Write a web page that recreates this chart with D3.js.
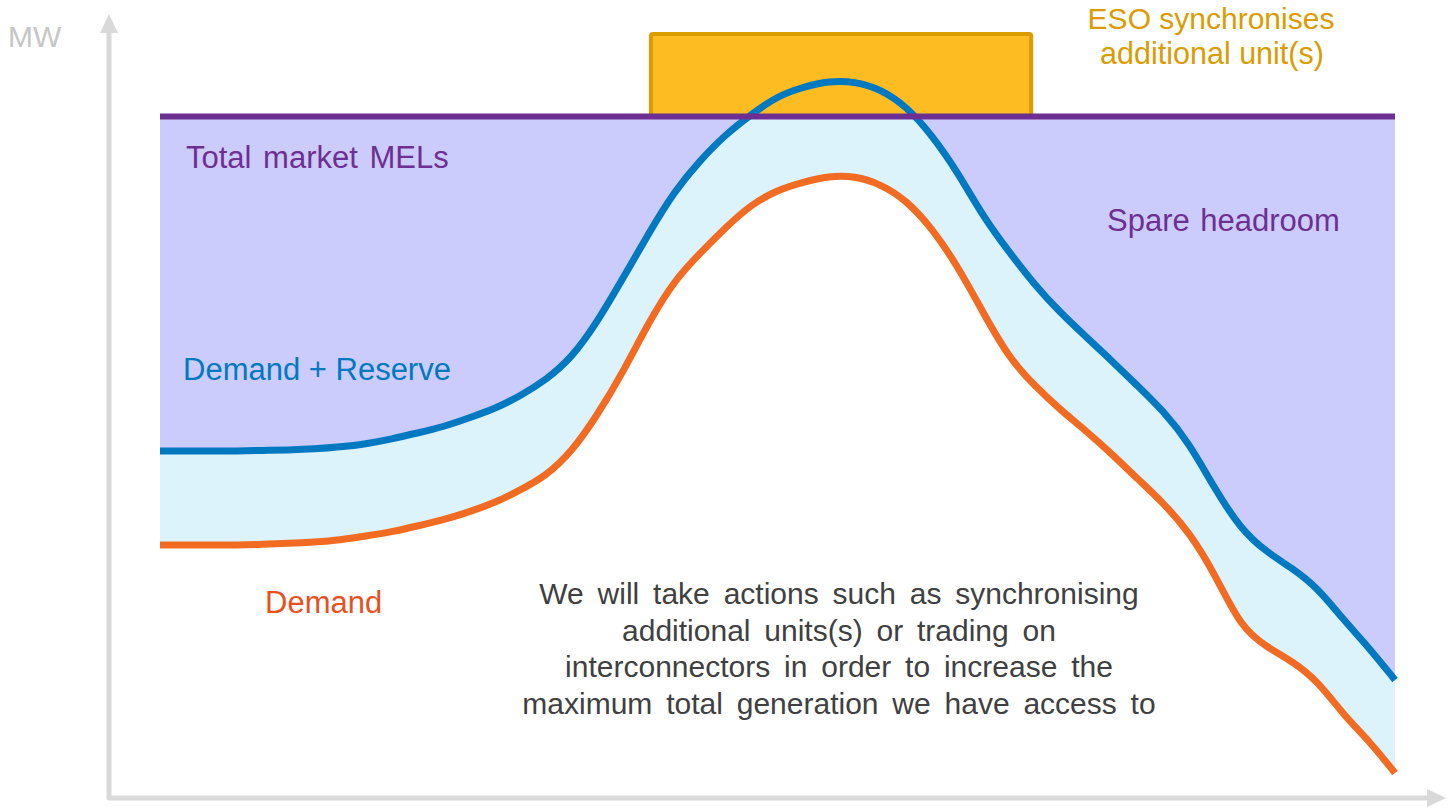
<!DOCTYPE html>
<html>
<head>
<meta charset="utf-8">
<script src="https://cdn.jsdelivr.net/npm/d3@7"></script>
<style>
  html, body { margin: 0; padding: 0; background: #ffffff; }
  svg { display: block; font-family: "Liberation Sans", Arial, sans-serif; }
</style>
</head>
<body>
<svg id="chart" width="1450" height="811"></svg>
<script>
// Half-hourly time of day (hours)
const hours = [0, 0.5, 1, 1.5, 2, 2.5, 3, 3.5, 4, 4.5, 5, 5.5, 6, 6.5, 7, 7.5, 8, 8.5,
  9, 9.5, 10, 10.5, 11, 11.5, 12, 12.5, 13, 13.5, 14, 14.5, 15, 15.5, 16, 16.5,
  17, 17.5, 18, 18.5, 19, 19.5, 20, 20.5, 21, 21.5, 22, 22.5, 23, 23.5, 24];

// Demand plus reserve requirement (GW)
const demandReserve = [17.35, 17.35, 17.35, 17.35, 17.38, 17.4, 17.45, 17.55, 17.7, 17.95,
  18.25, 18.55, 19.0, 19.45, 20.1, 20.9, 22.0, 23.8, 26.0, 28.25, 30.35, 31.9, 33.2, 34.2,
  35.1, 35.55, 35.85, 35.83, 35.45, 34.6, 33.15, 31.3, 29.05, 27.3, 25.65, 24.25, 23.05,
  21.85, 20.6, 19.35, 17.75, 15.45, 13.45, 12.3, 11.5, 10.5, 8.9, 7.5, 5.9];

// Demand (GW)
const demand = [12.65, 12.65, 12.65, 12.65, 12.68, 12.73, 12.8, 12.9, 13.1, 13.3, 13.6, 13.9,
  14.3, 14.75, 15.4, 16.1, 17.3, 19.15, 21.3, 23.8, 25.9, 27.25, 28.55, 29.7, 30.4, 30.8,
  31.1, 31.1, 30.7, 29.9, 28.5, 26.6, 24.25, 22.0, 20.6, 19.4, 18.35, 17.2, 15.95, 14.75,
  13.3, 11.2, 8.55, 7.55, 6.85, 5.85, 4.15, 2.85, 1.25];

// Total market MELs (GW) and the extra capacity window when units are synchronised
const totalMEL = 34.08;
const syncStart = 9.54, syncEnd = 16.93;
const syncCeiling = 38.2;

const paragraph = [
  "We will take actions such as synchronising",
  "additional units(s) or trading on",
  "interconnectors in order to increase the",
  "maximum total generation we have access to"
];

const svg = d3.select("#chart");
const x = d3.scaleLinear().domain([0, 24]).range([160, 1395]);
const y = d3.scaleLinear().domain([0, 40]).range([798, -2]);

const rows = hours.map((h, i) => ({ h, dr: demandReserve[i], d: demand[i] }));
const curve = d3.curveBasis;

// Spare headroom: between total MELs and demand + reserve
svg.append("path")
  .datum(rows)
  .attr("fill", "#ccccfc")
  .attr("d", d3.area().curve(curve).x(r => x(r.h)).y0(y(totalMEL)).y1(r => y(r.dr)));

// Reserve band: between demand and demand + reserve
svg.append("path")
  .datum(rows)
  .attr("fill", "#dcf3fb")
  .attr("d", d3.area().curve(curve).x(r => x(r.h)).y0(r => y(r.d)).y1(r => y(r.dr)));

// Additional synchronised units
svg.append("rect")
  .attr("x", x(syncStart))
  .attr("y", y(syncCeiling))
  .attr("width", x(syncEnd) - x(syncStart))
  .attr("height", y(totalMEL) - y(syncCeiling))
  .attr("rx", 2)
  .attr("fill", "#fdbd22")
  .attr("stroke", "#da9c00")
  .attr("stroke-width", 4);

const line = key => d3.line().curve(curve).x(r => x(r.h)).y(r => y(r[key]));

svg.append("path").datum(rows)
  .attr("fill", "none").attr("stroke", "#f26b22").attr("stroke-width", 7)
  .attr("d", line("d"));

svg.append("path").datum(rows)
  .attr("fill", "none").attr("stroke", "#0079c1").attr("stroke-width", 7)
  .attr("d", line("dr"));

// Total market MELs line
svg.append("line")
  .attr("x1", x(0)).attr("x2", x(24))
  .attr("y1", y(totalMEL)).attr("y2", y(totalMEL))
  .attr("stroke", "#6e2f93").attr("stroke-width", 6);

// Axes with arrow heads
const ax = 109, ay = 798, aTop = 14, aRight = 1446;
svg.append("path")
  .attr("d", `M${ax},${aTop + 16}L${ax},${ay}L${aRight - 16},${ay}`)
  .attr("fill", "none").attr("stroke", "#d9d9d9").attr("stroke-width", 5)
  .attr("stroke-linejoin", "round");
svg.append("path")
  .attr("d", `M${ax},${aTop}L${ax + 9},${aTop + 19}L${ax - 9},${aTop + 19}Z`)
  .attr("fill", "#d9d9d9");
svg.append("path")
  .attr("d", `M${aRight},${ay}L${aRight - 19},${ay - 9}L${aRight - 19},${ay + 9}Z`)
  .attr("fill", "#d9d9d9");

// Labels
const label = (txt, px, py, color, size, anchor) =>
  svg.append("text").attr("x", px).attr("y", py).attr("fill", color)
    .attr("font-size", size).attr("text-anchor", anchor || "start").text(txt);

label("MW", 8, 47, "#c6c6c6", 30);
label("Total market MELs", 186, 168, "#6e2f93", 31).attr("word-spacing", 3);
label("Demand + Reserve", 183, 380, "#0079c1", 31);
label("Spare headroom", 1107, 231, "#6e2f93", 31).attr("word-spacing", 2);
label("Demand", 265, 613, "#e8501e", 31);
label("ESO synchronises", 1211, 29, "#da9c00", 30, "middle");
label("additional unit(s)", 1212, 64, "#da9c00", 30.5, "middle");

paragraph.forEach((t, i) => {
  label(t, 839, 604 + i * 36.5, "#404040", 30, "middle").attr("word-spacing", 5.5);
});
</script>
</body>
</html>
